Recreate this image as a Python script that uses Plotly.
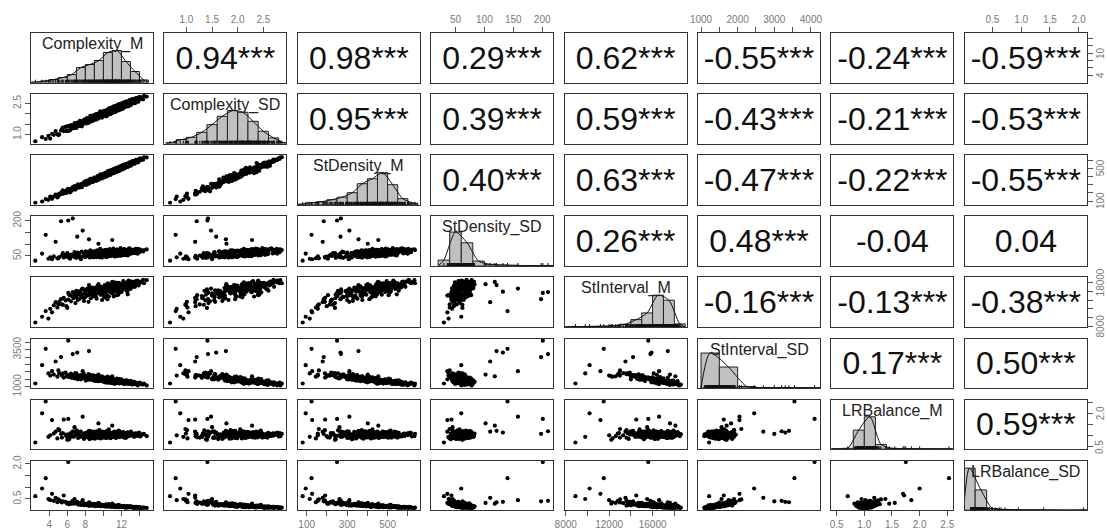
import plotly.graph_objects as go

# ---------------- data ----------------
var_names = ["Complexity_M", "Complexity_SD", "StDensity_M", "StDensity_SD",
             "StInterval_M", "StInterval_SD", "LRBalance_M", "LRBalance_SD"]

complexity_m = [
    2.45, 3.2, 3.6, 3.9, 4.1, 4.3, 4.5, 4.7, 4.9,
    5.1, 5.3, 5.4, 5.6, 5.8, 5.9,
    6.1, 6.1, 6.2, 6.4, 6.5, 6.6, 6.7, 6.8, 6.9,
    7.0, 7.1, 7.2, 7.3, 7.4, 7.5, 7.6, 7.7, 7.8, 7.85, 7.95,
    8.0, 8.1, 8.2, 8.3, 8.4, 8.5, 8.6, 8.65, 8.7, 8.8, 8.9, 8.95,
    9.0, 9.1, 9.15, 9.2, 9.3, 9.4, 9.45, 9.5, 9.6, 9.7, 9.75, 9.8, 9.9, 9.95,
    10.0, 10.05, 10.1, 10.2, 10.25, 10.3, 10.4, 10.45, 10.5, 10.55, 10.6, 10.65, 10.7, 10.75, 10.8, 10.85, 10.9, 10.95, 10.98,
    11.0, 11.05, 11.1, 11.15, 11.2, 11.25, 11.3, 11.35, 11.4, 11.45, 11.5, 11.55, 11.6, 11.65, 11.7, 11.75, 11.8, 11.85, 11.9, 11.95,
    12.0, 12.1, 12.2, 12.3, 12.4, 12.5, 12.6, 12.7, 12.8, 12.85, 12.9, 12.95, 12.7, 12.3,
    13.1, 13.3, 13.5, 13.6, 13.7, 13.8, 13.9, 13.95, 14.2, 14.5, 14.8,
    5.5, 6.3, 7.15, 7.6, 8.05, 8.35, 8.55, 8.8, 9.05, 9.25, 9.35, 9.55, 9.65, 9.85, 10.0, 10.15, 10.3, 10.35, 10.5, 10.6,
    10.7, 10.8, 10.9, 11.0, 11.1, 11.2, 11.3, 11.4, 11.5, 11.6, 11.7, 11.8, 11.9, 12.0, 12.1, 12.2, 12.3, 12.45, 12.6, 12.75,
    12.9, 13.05, 13.2, 13.4, 13.6, 13.85, 14.1, 14.4, 7.9, 8.45, 9.0, 9.5, 10.05, 10.45, 10.95, 11.35, 11.75, 12.15, 12.55, 13.0,
    6.8, 7.4, 8.2, 8.9, 9.7, 10.25, 10.75, 11.25, 11.65, 12.05, 12.4, 12.8, 13.3, 5.0, 6.0, 7.0, 8.7, 9.2, 9.9, 10.4,
    10.65, 11.05, 11.45, 11.85, 12.25, 12.65, 13.15, 13.5, 14.0, 11.55]

complexity_sd = [
    0.68, 0.88, 0.79, 0.94, 0.81, 1.04, 0.99, 1.17, 1.02,
    1.01, 1.20, 1.26, 1.17, 1.37, 1.18,
    1.41, 1.18, 1.38, 1.46, 1.30, 1.42, 1.31, 1.50, 1.43,
    1.32, 1.58, 1.52, 1.42, 1.66, 1.50, 1.64, 1.48, 1.60, 1.70, 1.56,
    1.68, 1.54, 1.79, 1.66, 1.77, 1.64, 1.76, 1.88, 1.64, 1.83, 1.75, 1.90,
    1.72, 1.87, 1.98, 1.79, 1.86, 1.97, 1.78, 1.95, 1.89, 2.06, 1.87, 2.02, 1.84, 2.01,
    2.10, 1.95, 2.09, 1.93, 2.08, 2.17, 1.99, 2.08, 1.96, 2.19, 2.08, 2.17, 2.03, 2.27, 2.09, 2.22, 2.04, 2.19, 2.28,
    2.11, 2.23, 2.07, 2.32, 2.20, 2.29, 2.14, 2.37, 2.21, 2.27, 2.16, 2.36, 2.23, 2.42, 2.17, 2.35, 2.24, 2.42, 2.33, 2.23,
    2.42, 2.33, 2.51, 2.31, 2.45, 2.58, 2.40, 2.54, 2.37, 2.59, 2.49, 2.63, 2.40, 2.48,
    2.50, 2.71, 2.52, 2.69, 2.65, 2.77, 2.62, 2.77, 2.72, 2.86, 2.83,
    1.34, 1.21, 1.54, 1.40, 1.75, 1.56, 1.90, 1.70, 1.84, 1.73, 2.00, 1.86, 2.12, 1.82, 2.04, 1.93, 2.13, 1.88, 2.22, 2.05,
    2.27, 1.99, 2.24, 2.08, 2.35, 2.12, 2.38, 2.14, 2.40, 2.18, 2.45, 2.22, 2.48, 2.27, 2.52, 2.30, 2.55, 2.34, 2.60, 2.38,
    2.66, 2.43, 2.70, 2.52, 2.76, 2.58, 2.80, 2.70, 1.72, 1.62, 1.95, 1.80, 2.15, 1.95, 2.30, 2.10, 2.46, 2.25, 2.58, 2.44,
    1.55, 1.42, 1.80, 1.68, 2.08, 1.93, 2.28, 2.10, 2.44, 2.24, 2.56, 2.40, 2.71, 0.98, 1.40, 1.35, 1.90, 1.74, 2.10, 1.97,
    2.25, 2.06, 2.39, 2.20, 2.53, 2.36, 2.68, 2.52, 2.82, 2.36]

stdensity_m = [
    80, 95, 124, 115, 155, 127, 155, 179, 145,
    190, 184, 214, 191, 221, 199,
    250, 224, 243, 219, 252, 269, 241, 262, 240,
    280, 267, 301, 267, 292, 308, 276, 311, 303, 328, 301,
    317, 298, 339, 321, 356, 323, 350, 345, 366, 335, 368, 353,
    387, 356, 373, 352, 390, 376, 402, 362, 398, 395, 418, 386, 414, 398,
    426, 390, 419, 441, 409, 432, 411, 443, 429, 461, 429, 442, 422, 460, 441, 469, 436, 460, 454,
    478, 445, 471, 441, 480, 465, 489, 454, 479, 468, 504, 475, 496, 471, 496, 467, 512, 494, 512, 490,
    524, 503, 522, 498, 538, 517, 536, 521, 564, 537, 558, 530, 545, 520,
    543, 583, 570, 599, 570, 599, 584, 612, 601, 635, 632,
    230, 205, 300, 270, 345, 310, 372, 340, 380, 350, 405, 372, 425, 375, 430, 395, 448, 400, 465, 425,
    470, 420, 478, 440, 490, 450, 500, 455, 505, 462, 515, 478, 525, 488, 535, 495, 545, 505, 555, 520,
    572, 535, 585, 552, 602, 572, 620, 605, 330, 322, 383, 365, 436, 410, 478, 452, 512, 490, 550, 538,
    282, 268, 350, 338, 418, 402, 466, 447, 508, 485, 543, 528, 588, 160, 240, 255, 370, 355, 426, 414,
    462, 440, 498, 478, 536, 515, 578, 560, 615, 490]

stdensity_sd = [
    30, 60, 140, 38, 44, 36, 48, 110, 40,
    45, 198, 52, 43, 55, 47,
    201, 50, 42, 56, 48, 210, 53, 45, 58,
    42, 132, 54, 61, 47, 36, 68, 158, 49, 57, 54,
    45, 55, 66, 62, 121, 43, 52, 56, 70, 64, 44, 53,
    67, 46, 52, 69, 74, 48, 102, 58, 44, 62, 71, 49, 56, 73,
    50, 70, 59, 47, 75, 68, 45, 61, 72, 51, 64, 76, 54, 49, 68, 74, 57, 71, 118,
    53, 65, 73, 60, 51, 71, 48, 75, 62, 52, 72, 77, 50, 65, 58, 74, 55, 68, 72, 51,
    73, 54, 62, 78, 53, 75, 66, 55, 80, 58, 70, 79, 52, 76,
    75, 65, 73, 62, 80, 60, 79, 68, 71, 75, 78,
    62, 38, 64, 46, 70, 48, 74, 50, 66, 45, 71, 55, 80, 43, 63, 52, 76, 47, 69, 57,
    79, 50, 66, 58, 81, 49, 72, 54, 77, 59, 68, 52, 83, 57, 74, 55, 79, 60, 71, 58,
    82, 61, 76, 63, 80, 65, 77, 69, 60, 51, 70, 48, 73, 53, 64, 60, 70, 62, 73, 66,
    66, 44, 58, 65, 54, 67, 55, 70, 61, 73, 59, 78, 64, 40, 62, 55, 46, 68, 57, 72,
    50, 67, 57, 75, 56, 74, 61, 78, 66, 63]

stinterval_m = [
    8900, 10200, 11500, 9800, 12000, 11200, 12800, 13500, 12300,
    13600, 14200, 13000, 14500, 13900, 12600,
    15600, 14100, 15200, 13700, 14900, 15800, 14400, 15500, 13300,
    14700, 15900, 15300, 14200, 16000, 15000, 14600, 16600, 15400, 13800, 16200,
    15600, 14900, 16300, 15100, 17400, 15800, 14400, 16500, 15300, 16800, 15000, 16100,
    15700, 16400, 14800, 16900, 15500, 16200, 17600, 15900, 16600, 15200, 17000, 16300, 15800, 16700,
    16100, 16800, 14600, 17200, 16400, 15900, 16700, 17500, 14900, 16900, 16200, 17300, 16500, 15800, 17100, 16600, 16000, 17400, 18100,
    16300, 17000, 16700, 14800, 17600, 16500, 17200, 16100, 17800, 16800, 16400, 17400, 16900, 15200, 17700, 16600, 17100, 16200, 17500, 16800,
    17300, 16600, 17900, 16900, 17600, 16400, 18000, 17200, 16800, 17700, 17100, 18200, 15300, 17500,
    17400, 18100, 17000, 18300, 17600, 18400, 17300, 18000, 18200, 17800, 18500,
    12900, 15100, 14000, 16400, 15900, 13600, 16800, 15000, 16500, 14300, 17200, 15600, 16900, 14000, 16600, 17400, 15300, 16300, 17800, 14800,
    16900, 16200, 17600, 15500, 16700, 18000, 16000, 17300, 15100, 16900, 17900, 16400, 17500, 15800, 17000, 18300, 16600, 17700, 16100, 17300,
    18100, 16800, 17900, 17200, 18200, 17600, 18000, 18600, 14500, 16200, 15300, 17100, 16000, 14200, 16800, 17700, 15700, 17000, 17800, 16500,
    14700, 15600, 16600, 14900, 16300, 17000, 15900, 16600, 17400, 16200, 17500, 18400, 17000, 13000, 12200, 16100, 15700, 16700, 15200, 17300,
    16500, 15400, 17900, 16700, 17100, 16000, 18200, 17500, 17800, 16100]

stinterval_sd = [
    1220, 2450, 3550, 1900, 1750, 2050, 1820, 2700, 1680,
    1900, 3000, 1750, 1620, 1950, 1700,
    4100, 1780, 1650, 1880, 1600, 3200, 1720, 1560, 1920,
    1700, 3300, 1580, 1760, 1640, 1500, 1690, 2050, 1620, 1850, 1540,
    1600, 1720, 1480, 1650, 3400, 1560, 1790, 1520, 1610, 1450, 1680, 1540,
    1580, 1500, 1690, 1430, 1620, 1520, 1820, 1560, 1470, 1640, 1400, 1530, 1590, 1450,
    1420, 1340, 1530, 1300, 1410, 1470, 1360, 1280, 1500, 1330, 1440, 1270, 1390, 1480, 1310, 1370, 1450, 1260, 1700,
    1410, 1320, 1360, 1480, 1250, 1390, 1300, 1430, 1230, 1350, 1400, 1280, 1340, 1460, 1240, 1370, 1310, 1420, 1260, 1340,
    1290, 1360, 1220, 1330, 1250, 1390, 1210, 1300, 1340, 1240, 1310, 1190, 1380, 1270,
    1260, 1200, 1300, 1180, 1230, 1100, 1250, 1190, 1170, 1210, 1090,
    1900, 1760, 1500, 1800, 1420, 1850, 1530, 1700, 1390, 1740, 1380, 1600, 1450, 1700, 1350, 1620, 1560, 1300, 1410, 1640,
    1330, 1520, 1250, 1580, 1390, 1200, 1470, 1360, 1550, 1280, 1420, 1230, 1340, 1500, 1260, 1380, 1180, 1330, 1440, 1200,
    1300, 1400, 1150, 1330, 1210, 1120, 1240, 1150, 1650, 1480, 1600, 1370, 1490, 1690, 1390, 1270, 1510, 1290, 1350, 1260,
    1840, 1620, 1550, 1760, 1440, 1560, 1300, 1430, 1350, 1270, 1410, 1220, 1300, 2100, 1700, 1900, 1500, 1650, 1480, 1370,
    1460, 1540, 1320, 1400, 1240, 1380, 1250, 1170, 1280, 1350]

lrbalance_m = [
    0.70, 2.00, 2.53, 0.95, 1.02, 1.70, 1.10, 1.18, 0.88,
    1.25, 1.08, 0.92, 1.72, 1.05, 0.98,
    1.75, 1.06, 0.84, 1.12, 1.00, 1.20, 0.95, 1.38, 1.02,
    1.09, 1.14, 0.90, 1.05, 1.00, 1.18, 0.96, 1.85, 1.07, 0.86, 1.12,
    1.03, 0.94, 1.15, 1.06, 1.22, 0.99, 1.10, 0.88, 1.04, 1.17, 0.93, 1.08,
    1.01, 1.13, 0.97, 1.06, 1.20, 0.90, 1.55, 1.04, 0.95, 1.16, 1.02, 1.09, 0.92, 1.14,
    1.05, 1.11, 0.98, 1.07, 1.19, 0.91, 1.03, 1.12, 1.00, 1.08, 0.96, 1.15, 1.02, 1.09, 0.94, 1.13, 1.01, 1.06, 1.45,
    1.04, 0.97, 1.10, 1.03, 1.16, 0.93, 1.07, 1.00, 1.12, 1.05, 0.95, 1.18, 1.02, 1.09, 0.99, 1.06, 1.14, 0.97, 1.04, 1.11,
    1.01, 1.08, 0.96, 1.13, 1.03, 0.94, 1.10, 1.05, 0.98, 1.12, 1.02, 1.07, 1.15, 0.92,
    1.04, 1.09, 0.97, 1.11, 1.02, 1.06, 0.99, 1.14, 1.03, 1.08, 0.98,
    1.12, 0.93, 1.20, 0.99, 1.08, 0.91, 1.21, 1.00, 0.87, 1.14, 1.02, 1.25, 0.96, 1.10, 1.03, 0.92, 1.17, 1.06, 0.98, 1.28,
    1.01, 0.89, 1.12, 1.05, 0.95, 1.19, 1.07, 0.90, 1.14, 1.00, 1.23, 0.94, 1.09, 1.02, 0.97, 1.16, 1.04, 0.91, 1.13, 1.06,
    0.99, 1.18, 1.01, 0.95, 1.10, 1.04, 0.97, 1.07, 1.06, 0.85, 1.19, 1.00, 0.93, 1.22, 1.03, 0.96, 1.15, 1.08, 0.92, 1.12,
    1.16, 0.95, 1.09, 1.01, 0.88, 1.14, 1.07, 0.98, 1.20, 1.02, 0.94, 1.11, 1.03, 1.30, 0.82, 1.24, 1.05, 0.97, 1.18, 0.90,
    1.10, 1.01, 0.93, 1.17, 1.06, 0.99, 1.08, 1.00, 1.12, 1.04]

lrbalance_sd = [
    0.62, 0.95, 1.39, 0.50, 0.45, 0.72, 0.42, 0.55, 0.36,
    0.44, 0.40, 0.35, 0.65, 0.38, 0.33,
    2.08, 0.34, 0.28, 0.36, 0.31, 0.42, 0.30, 0.50, 0.32,
    0.31, 0.38, 0.26, 0.29, 0.27, 0.33, 0.26, 0.45, 0.28, 0.24, 0.30,
    0.27, 0.24, 0.29, 0.26, 0.36, 0.25, 0.27, 0.22, 0.26, 0.28, 0.23, 0.25,
    0.24, 0.26, 0.23, 0.24, 0.29, 0.21, 0.33, 0.23, 0.21, 0.26, 0.22, 0.24, 0.20, 0.25,
    0.22, 0.23, 0.21, 0.22, 0.26, 0.19, 0.21, 0.23, 0.20, 0.22, 0.19, 0.24, 0.20, 0.21, 0.18, 0.23, 0.20, 0.21, 0.30,
    0.19, 0.18, 0.20, 0.19, 0.22, 0.17, 0.19, 0.18, 0.21, 0.19, 0.17, 0.22, 0.18, 0.19, 0.17, 0.18, 0.20, 0.16, 0.18, 0.19,
    0.17, 0.18, 0.16, 0.19, 0.17, 0.15, 0.18, 0.16, 0.15, 0.17, 0.16, 0.16, 0.19, 0.15,
    0.15, 0.16, 0.14, 0.15, 0.14, 0.14, 0.13, 0.15, 0.13, 0.13, 0.12,
    0.40, 0.29, 0.35, 0.25, 0.28, 0.22, 0.31, 0.24, 0.19, 0.27, 0.22, 0.30, 0.20, 0.23, 0.21, 0.18, 0.26, 0.20, 0.19, 0.28,
    0.20, 0.16, 0.22, 0.19, 0.17, 0.23, 0.20, 0.15, 0.22, 0.17, 0.25, 0.15, 0.19, 0.17, 0.16, 0.21, 0.17, 0.14, 0.19, 0.16,
    0.15, 0.19, 0.14, 0.13, 0.16, 0.13, 0.12, 0.13, 0.27, 0.21, 0.29, 0.21, 0.19, 0.26, 0.19, 0.17, 0.22, 0.18, 0.14, 0.17,
    0.34, 0.26, 0.27, 0.24, 0.19, 0.23, 0.21, 0.17, 0.22, 0.16, 0.15, 0.17, 0.14, 0.48, 0.30, 0.36, 0.23, 0.22, 0.24, 0.17,
    0.21, 0.19, 0.16, 0.21, 0.17, 0.15, 0.16, 0.13, 0.14, 0.18]

# correlation coefficients of the upper triangle, row by row
cor_row1 = [0.94, 0.98, 0.29, 0.62, -0.55, -0.24, -0.59]
cor_row2 = [0.95, 0.39, 0.59, -0.43, -0.21, -0.53]
cor_row3 = [0.40, 0.63, -0.47, -0.22, -0.55]
cor_row4 = [0.26, 0.48, -0.04, 0.04]
cor_row5 = [-0.16, -0.13, -0.38]
cor_row6 = [0.17, 0.50]
cor_row7 = [0.59]
sig_row1 = ["***"] * 7
sig_row2 = ["***"] * 6
sig_row3 = ["***"] * 5
sig_row4 = ["***", "***", "", ""]
sig_row5 = ["***"] * 3
sig_row6 = ["***"] * 2
sig_row7 = ["***"]

# histogram bins (start, width) and relative densities for each variable
hist_start = [2, 0.6, 50, 20, 8000, 1000, 0.4, 0.0]
hist_width = [1, 0.2, 50, 20, 1000, 500, 0.2, 0.2]
hist_cm = [0.5, 1.5, 3, 5, 8, 15, 18, 22, 30, 32, 21, 11, 2.5]
hist_cs = [1, 4, 6.3, 11.3, 19, 27.3, 33, 31.3, 22.3, 12.3, 5.7, 1]
hist_dm = [0.5, 2, 3, 5, 7.5, 12, 21, 26, 32, 20, 6, 1.5]
hist_ds = [5.7, 33.7, 23, 4.7, 1.5, 0.8, 0.5, 0.3, 0.3, 0.3]
hist_im = [0.3, 0.3, 0.5, 0.7, 1.2, 2.7, 7.3, 14, 31.7, 26.7, 3]
hist_is = [35, 21, 1.5, 0.5, 0.5, 0.3, 0.2]
hist_lm = [0.3, 0.8, 19, 32.3, 4.7, 0.8, 0.4, 0.3, 0.3, 0.2, 0.2]
hist_ls = [42, 20.3, 1.7, 0.8, 0.5, 0.3, 0.3, 0.2, 0.1, 0.1, 0.2]

# axis ticks
tick_vals = [[4, 6, 8, 10, 12, 14], [1.0, 1.5, 2.0, 2.5], [100, 200, 300, 400, 500, 600],
             [50, 100, 150, 200], [8000, 10000, 12000, 14000, 16000, 18000],
             [1000, 1500, 2000, 2500, 3000, 3500, 4000], [0.5, 1.0, 1.5, 2.0, 2.5],
             [0.5, 1.0, 1.5, 2.0]]
x_tick_text = [["4", "6", "8", "", "12", ""], ["1.0", "1.5", "2.0", "2.5"],
               ["100", "", "300", "", "500", ""], ["50", "100", "150", "200"],
               ["8000", "", "12000", "", "16000", ""],
               ["1000", "", "2000", "", "3000", "", "4000"],
               ["0.5", "1.0", "1.5", "2.0", "2.5"], ["0.5", "1.0", "1.5", "2.0"]]
y_tick_text = [["4", "", "", "10", "", ""], ["1.0", "", "", "2.5"],
               ["100", "", "", "", "500", ""], ["50", "", "", "200"],
               ["8000", "", "", "", "", "18000"],
               ["1000", "", "", "", "", "3500", ""],
               ["0.5", "", "", "2.0", ""], ["0.5", "", "", "2.0"]]

# ---------------- layout / drawing ----------------
variables = [complexity_m, complexity_sd, stdensity_m, stdensity_sd,
             stinterval_m, stinterval_sd, lrbalance_m, lrbalance_sd]
cor_rows = [cor_row1, cor_row2, cor_row3, cor_row4, cor_row5, cor_row6, cor_row7]
sig_rows = [sig_row1, sig_row2, sig_row3, sig_row4, sig_row5, sig_row6, sig_row7]
hist_heights = [hist_cm, hist_cs, hist_dm, hist_ds, hist_im, hist_is, hist_lm, hist_ls]

axis_range = [[1.97, 15.5], [0.57, 2.95], [56, 659], [8, 219],
              [7900, 19130], [917, 4248], [0.405, 2.61], [0.02, 2.14]]

FONT = "Liberation Sans, Arial, sans-serif"
FIG_W, FIG_H = 1107, 531
X0, DX, PW = 31.0, 133.4, 122.0
Y0, DY, PH = 33.0, 61.1, 49.5
HIST_TOP = 49.5
N = 8
TICK_FONT = dict(size=10, color="#7a7a7a", family=FONT)

fig = go.Figure()
layout = dict(width=FIG_W, height=FIG_H, margin=dict(l=0, r=0, t=0, b=0, autoexpand=False),
              paper_bgcolor="white", plot_bgcolor="white", showlegend=False,
              font=dict(family=FONT))
annotations = []

tickstyle = dict(ticks="outside", ticklen=5, tickwidth=1, tickcolor="#555555",
                 showticklabels=True, tickfont=TICK_FONT)

for r in range(N):
    for c in range(N):
        k = r * N + c + 1
        s = "" if k == 1 else str(k)
        x0 = X0 + c * DX
        y0 = Y0 + r * DY
        xa = dict(domain=[x0 / FIG_W, (x0 + PW) / FIG_W], anchor="y" + s,
                  range=axis_range[c], showgrid=False, zeroline=False, automargin=False,
                  showline=True, mirror=True, linecolor="#333333", linewidth=1,
                  showticklabels=False, ticks="", fixedrange=True)
        ya = dict(domain=[1 - (y0 + PH) / FIG_H, 1 - y0 / FIG_H], anchor="x" + s,
                  range=axis_range[r] if r != c else [0, HIST_TOP],
                  showgrid=False, zeroline=False, automargin=False,
                  showline=True, mirror=True, linecolor="#333333", linewidth=1,
                  showticklabels=False, ticks="", fixedrange=True)
        if r == 0 and c % 2 == 1:
            xa.update(tickstyle, side="top", tickvals=tick_vals[c], ticktext=x_tick_text[c])
        if r == N - 1 and c % 2 == 0:
            xa.update(tickstyle, side="bottom", tickvals=tick_vals[c], ticktext=x_tick_text[c])
        if c == 0 and r % 2 == 1:
            ya.update(tickstyle, side="left", tickvals=tick_vals[r], ticktext=y_tick_text[r],
                      tickangle=-90)
        if c == N - 1 and r % 2 == 0:
            # ticks drawn by the axis, labels placed as rotated annotations near the page edge
            ya.update(tickstyle, side="right", tickvals=tick_vals[r], showticklabels=False)
            for tv, tt in zip(tick_vals[r], y_tick_text[r]):
                if tt:
                    annotations.append(dict(text=tt, xref="paper", yref="y" + s,
                                            x=1100 / FIG_W, y=tv, xanchor="center",
                                            yanchor="middle", textangle=-90,
                                            showarrow=False, font=TICK_FONT))
        layout["xaxis" + s] = xa
        layout["yaxis" + s] = ya

        if r > c:
            fig.add_trace(go.Scatter(x=variables[c], y=variables[r], mode="markers",
                                     marker=dict(size=4.2, color="black"),
                                     xaxis="x" + s, yaxis="y" + s, hoverinfo="skip"))
        elif r == c:
            h = hist_heights[c]
            w = hist_width[c]
            st = hist_start[c]
            centers = [st + w * (i + 0.5) for i in range(len(h))]
            fig.add_trace(go.Bar(x=centers, y=h, width=w,
                                 marker=dict(color="#c0c0c0", line=dict(color="#222222", width=1)),
                                 xaxis="x" + s, yaxis="y" + s, hoverinfo="skip"))
            fig.add_trace(go.Scatter(x=[st] + centers + [st + w * len(h)], y=[0] + h + [0],
                                     mode="lines",
                                     line=dict(color="#111111", width=1, shape="spline", smoothing=0.7),
                                     xaxis="x" + s, yaxis="y" + s, hoverinfo="skip"))
            fig.add_trace(go.Scatter(x=variables[c], y=[0] * len(variables[c]), mode="markers",
                                     marker=dict(symbol="line-ns", size=4,
                                                 line=dict(width=1, color="#111111")),
                                     xaxis="x" + s, yaxis="y" + s, hoverinfo="skip"))
            annotations.append(dict(text=var_names[c], xref="x" + s + " domain",
                                    yref="y" + s + " domain", x=0.5, y=1.0,
                                    xanchor="center", yanchor="top", showarrow=False,
                                    font=dict(size=16, color="#222222", family=FONT)))
        else:
            v = cor_rows[r][c - r - 1]
            st_ = sig_rows[r][c - r - 1]
            xr = axis_range[c]
            yr = axis_range[r]
            fig.add_trace(go.Scatter(x=[(xr[0] + xr[1]) / 2],
                                     y=[yr[0] + 0.44 * (yr[1] - yr[0])],
                                     mode="text", text=[f"{v:.2f}{st_}"],
                                     textposition="middle center",
                                     textfont=dict(size=32, color="#111111", family=FONT),
                                     xaxis="x" + s, yaxis="y" + s, hoverinfo="skip"))

layout["annotations"] = annotations
fig.update_layout(**layout)
fig.write_html("out.html", config={"displayModeBar": False},
               post_script="document.body.style.margin='0';")
